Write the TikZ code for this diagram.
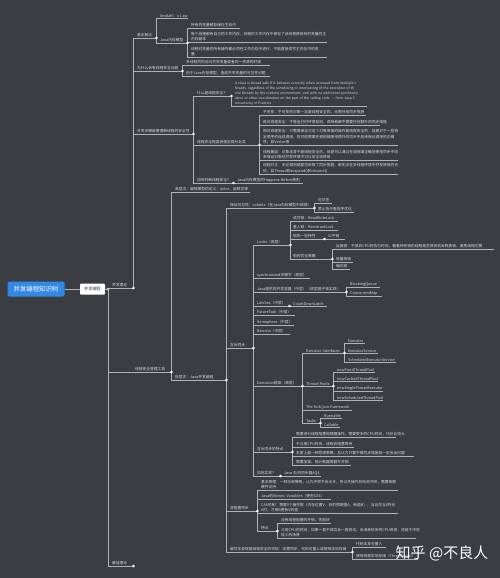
\documentclass[tikz,border=0pt]{standalone}
\usepackage{fontspec}
\setmainfont{Noto Sans CJK SC}
\definecolor{bgc}{RGB}{58,61,66}
\definecolor{lncol}{RGB}{178,178,178}
\definecolor{txtc}{RGB}{218,218,218}
\definecolor{blu}{RGB}{52,136,229}
\definecolor{wbt}{RGB}{60,60,60}
\newcommand\fsA{\fontsize{3.75}{5}\selectfont}
\newcommand\fsE{\fontsize{3.4}{5}\selectfont}
\newcommand\fsB{\fontsize{3.75}{5.6}\selectfont}
\tikzset{
 base/.style={anchor=south west, inner xsep=0pt, inner ysep=0.7pt, text=txtc, font=\fsA},
 t/.style={base, text width=#1pt, execute at begin node=\hbox\bgroup, execute at end node=\egroup},
 m/.style={base, text width=#1pt, align=left},
 conn/.style={draw=lncol, line width=0.55pt},
}
\begin{document}
\begin{tikzpicture}[x=1pt,y=-1pt]
\fill[bgc] (0,0) rectangle (500,578);
\useasboundingbox (0,0) rectangle (500,578);

% roots
\node[fill=blu, text=white, rounded corners=1.5pt, minimum width=57pt, minimum height=15pt, inner sep=0pt, font=\fontsize{6.4}{7}\selectfont] (root) at (36,289) {并发编程知识树};
\node[fill=white, text=wbt, rounded corners=1pt, minimum width=25pt, minimum height=11pt, inner sep=0pt, font=\fontsize{4.2}{5}\selectfont] (wb) at (92.5,289) {并发编程};
\node[circle, fill=white, inner sep=0pt, minimum size=3pt] (rd) at (108,289) {};

% first level
\node[t=21] (bA) at (112,288) {并发理论};
\node[t=36] (bB) at (135,372) {线程安全管理工具};
\node[t=21] (bC) at (112,566) {最佳理论};

% branch A
\node[t=19] (a1) at (137,38) {基本概念};
\node[t=28] (a11) at (160,18) {Amdahl's Law};
\node[t=27] (a12) at (160,43) {Java内存模型};
\node[t=49] (a121) at (191,28) {所有的变量都存储在主存中};
\node[m=136] (a122) at (191,42) {每个线程都有自己的工作内存，线程的工作内存中保存了该线程使用到的变量的主\\内存副本};
\node[m=136] (a123) at (191,57) {线程对变量的所有操作都必须在工作内存中进行，不能直接读写主内存中的变\\量};
\node[t=45] (a2) at (137,71) {为什么会有线程安全问题};
\node[t=84] (a21) at (186,65) {多线程同时访问共享变量或者同一资源的时候};
\node[t=84] (a22) at (186,76) {由于Java内存模型，造成共享变量的可见性问题};
\node[t=56] (a3) at (137,134) {并发关键是要理解线程的安全性};
\node[t=34] (a31) at (197,96) {什么是线程安全？};
\node[m=132, font=\fsE] (a311) at (235,106) {A class is thread-safe if it behaves correctly when accessed from multiple t\\hreads, regardless of the scheduling or interleaving of the execution of th\\ose threads by the runtime environment, and with no additional synchroniz\\ation or other coordination on the part of the calling code. -{}- from Java C\\oncurrency in Practice};
\node[t=62] (a32) at (197,145) {线程安全程度由强至弱分五类};
\node[t=103] (a321) at (263,115) {不可变：不可变的对象一定是线程安全的，无需任何同步措施};
\node[t=117] (a322) at (263,125) {绝对线程安全：不管运行时环境如何，调用者都不需要任何额外的同步措施};
\node[m=135, font=\fsB] (a323) at (263,145) {相对线程安全：只需要保证对这个对象单独的操作是线程安全的，但是对于一些特\\定顺序的连续调用，就可能需要在调用端使用额外的同步手段来保证调用的正确\\性，如Vector等};
\node[m=135, font=\fsB] (a324) at (263,160) {线程兼容：对象本身不是线程安全的，但是可以通过在调用端正确地使用同步手段\\来保证对象在并发环境中可以安全地使用};
\node[m=135, font=\fsB] (a325) at (263,174) {线程对立：无论调用端是否采取了同步措施，都无法在多线程环境中并发使用的代\\码，如Thread的suspend()和resume()};
\node[t=36] (a33) at (197,183) {如何判断线程安全？};
\node[t=66] (a331) at (237,183) {Java内存模型的Happens-Before规则};

% branch B
\node[t=75] (b1) at (175,192) {高层次：编程模型的定义：Actor、函数式等};
\node[t=51] (b2) at (175,380) {低层次：Java并发编程};
\node[t=84] (j1) at (230,208) {保证可见性：volatile（在Java内存模型中说明）};
\node[t=14] (j11) at (318,203) {可见性};
\node[t=36] (j12) at (318,212) {禁止指令重排序优化};
\node[t=23] (j2) at (230,348) {互斥同步};
\node[t=27] (j3) at (230,511) {非阻塞同步};
\node[t=122] (j4) at (230,552) {编写本身就是线程安全的代码：无需同步，代码可重入或使用本地存储};
\node[t=30] (j41) at (356,547) {代码本身可重入};
\node[t=62] (j42) at (356,559) {使用线程本地存储（ThreadLocal）};

\node[t=33] (l1) at (257,245) {Locks（底层）};
\node[t=45] (l11) at (293,221) {读写锁：ReadWriteLock};
\node[t=45] (l12) at (293,230) {重入锁：ReentrantLock};
\node[t=31] (l13) at (293,239) {锁的一些特性};
\node[t=17] (l131) at (328,239) {公平锁};
\node[t=39] (l14) at (293,259) {锁的优化策略};
\node[t=158] (l141) at (336,249) {自旋锁：不放弃CPU的执行时间，看看持有锁的线程是否很快就会释放锁，避免线程切换};
\node[t=17] (l142) at (336,262) {轻量级锁};
\node[t=14] (l143) at (336,269) {偏向锁};
\node[t=53] (l2) at (257,278) {synchronized关键字（底层）};
\node[t=89] (l3) at (257,292) {Java提供的并发容器（中层）（底层基于锁实现）};
\node[t=30] (l31) at (350,287) {BlockingQueue};
\node[t=32] (l32) at (350,296) {ConcurrentMap};
\node[t=32] (l4) at (257,306) {Latches（中层）};
\node[t=34] (l41) at (293,306) {CountDownLatch};
\node[t=38] (l5) at (257,315) {FutureTask（中层）};
\node[t=37] (l6) at (257,325) {Semaphore（中层）};
\node[t=33] (l7) at (257,334) {Barriers（中层）};
\node[t=45] (l8) at (257,386) {Executors框架（高层）};
\node[t=38] (e1) at (306,353) {Executor Interfaces};
\node[t=17] (e11) at (348,343) {Executor};
\node[t=30] (e12) at (348,353) {ExecutorService};
\node[t=48] (e13) at (348,362) {ScheduledExecutorService};
\node[t=27] (e2) at (306,386) {Thread Pools};
\node[t=38] (e21) at (337,372) {newFixedThreadPool};
\node[t=41] (e22) at (337,381) {newCachedThreadPool};
\node[t=46] (e23) at (337,391) {newSingleThreadExecutor};
\node[t=46] (e24) at (337,400) {newScheduledThreadPool};
\node[t=46] (e3) at (306,410) {The fork/join framework};
\node[t=14] (e4) at (306,423) {Tasks};
\node[t=18] (e41) at (324,418) {Runnable};
\node[t=16] (e42) at (324,427) {Callable};
\node[t=35] (l9) at (257,452) {互斥同步的特点};
\node[t=100] (c1) at (296,437) {需要进行线程阻塞和唤醒操作，需要更多的CPU时间，代价比较大};
\node[t=58] (c2) at (296,447) {不占用CPU时间，线程会阻塞等待};
\node[t=118] (c3) at (296,456) {本质上是一种悲观策略，总认为只要不做同步措施就一定会出问题};
\node[t=55] (c4) at (296,465) {需要加锁、锁计数器等额外开销};
\node[t=23] (l10) at (257,476) {如何实现？};
\node[t=37] (l101) at (284,476) {Java 队列同步器AQS};

\node[m=137] (n1) at (261,490) {基本原理：一种乐观策略，认为冲突不会太多，所以先操作后检测冲突，需要依赖\\硬件支持};
\node[t=70] (n2) at (261,499) {Java的Atomic Variables（使用CAS）};
\node[m=137] (n3) at (261,513) {CAS机制：需要3个操作数（内存位置V、旧的预期值A、新值B），当且仅当V符合\\A时，才用B更新V的值};
\node[t=16] (n4) at (261,531) {特点};
\node[t=50] (n41) at (281,523) {没有线程阻塞的开销，性能好};
\node[m=135] (n42) at (281,538) {占用CPU的时间，如果一直不成功会一直尝试，会消耗较多的CPU资源，适用于冲突\\较少的场景};

% underlines
\foreach \n in {bA,bB,bC,a1,a11,a12,a121,a122,a123,a2,a21,a22,a3,a31,a311,a32,a321,a322,a323,a324,a325,a33,a331,
 b1,b2,j1,j11,j12,j2,j3,j4,j41,j42,l1,l11,l12,l13,l131,l14,l141,l142,l143,l2,l3,l31,l32,l4,l41,l5,l6,l7,l8,
 e1,e11,e12,e13,e2,e21,e22,e23,e24,e3,e4,e41,e42,l9,c1,c2,c3,c4,l10,l101,n1,n2,n3,n4,n41,n42}
 \draw[conn] (\n.south west) -- (\n.south east);

% connectors
\draw[conn] (root.east) -- (wb.west);
\draw[conn] (wb.east) -- (rd.center);
\foreach \c in {bA,bB,bC} \draw[conn] (rd.center) |- (\c.south west);
\foreach \p/\c in {bA/a1,bA/a2,bA/a3,a1/a11,a1/a12,a12/a121,a12/a122,a12/a123,a2/a21,a2/a22,
 a3/a31,a3/a32,a3/a33,a31/a311,a32/a321,a32/a322,a32/a323,a32/a324,a32/a325,a33/a331,
 bB/b1,bB/b2,b2/j1,b2/j2,b2/j3,b2/j4,j1/j11,j1/j12,
 j2/l1,j2/l2,j2/l3,j2/l4,j2/l5,j2/l6,j2/l7,j2/l8,j2/l9,j2/l10,
 l1/l11,l1/l12,l1/l13,l1/l14,l13/l131,l14/l141,l14/l142,l14/l143,l3/l31,l3/l32,l4/l41,
 l8/e1,l8/e2,l8/e3,l8/e4,e1/e11,e1/e12,e1/e13,e2/e21,e2/e22,e2/e23,e2/e24,e4/e41,e4/e42,
 l9/c1,l9/c2,l9/c3,l9/c4,l10/l101,j3/n1,j3/n2,j3/n3,j3/n4,n4/n41,n4/n42,j4/j41,j4/j42}
 \draw[conn] (\p.south east) |- (\c.south west);

% dots
\foreach \n in {bA,bB,bC,a1,a12,a2,a3,a31,a32,a33,b2,j1,j2,l1,l13,l14,l3,l4,l8,e1,e2,e4,l9,l10,j3,n4,j4}
 \fill[white] (\n.south east) circle (1.4pt);

% watermark
\node[text=white, font=\fontsize{15}{16}\selectfont, inner sep=0pt] (wm) at (442,553) {知乎 @不良人};
\end{tikzpicture}
\end{document}
